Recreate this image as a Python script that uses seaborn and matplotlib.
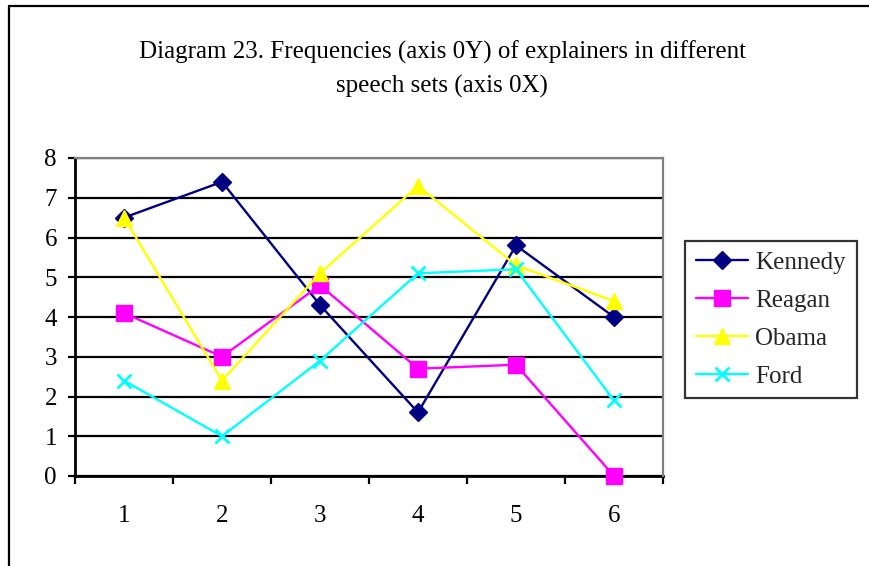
import numpy as np
import pandas as pd
import matplotlib
matplotlib.use("Agg")
import matplotlib.pyplot as plt
from matplotlib.lines import Line2D
from matplotlib.ticker import FixedLocator
import seaborn as sns

# ---- data ----
speech_sets = [1, 2, 3, 4, 5, 6]
kennedy = [6.5, 7.4, 4.3, 1.6, 5.8, 4.0]
reagan = [4.1, 3.0, 4.8, 2.7, 2.8, 0.0]
obama = [6.5, 2.4, 5.1, 7.3, 5.3, 4.4]
ford = [2.4, 1.0, 2.9, 5.1, 5.2, 1.9]
series_names = ["Kennedy", "Reagan", "Obama", "Ford"]
y_ticks = [0, 1, 2, 3, 4, 5, 6, 7, 8]
title_text = "Diagram 23. Frequencies (axis 0Y) of explainers in different\nspeech sets (axis 0X)"

# ---- style ----
sns.set_theme(style="white")
plt.rcParams["font.family"] = ["Liberation Serif", "DejaVu Serif"]

W, H = 869, 566
FS = 18
fig = plt.figure(figsize=(W / 100, H / 100), dpi=100)
fig.patch.set_facecolor("white")

ax = fig.add_axes([75 / W, (H - 476) / H, 588 / W, 318 / H])
ax.set_facecolor("white")

styles = {
    "Kennedy": dict(color="#000080", marker="D", ms=9.5, mew=1),
    "Reagan": dict(color="#FF00FF", marker="s", ms=11, mew=1),
    "Obama": dict(color="#FFFF00", marker="^", ms=12, mew=1),
    "Ford": dict(color="#00FFFF", marker="x", ms=10, mew=2),
}
values = {"Kennedy": kennedy, "Reagan": reagan, "Obama": obama, "Ford": ford}

for name in series_names:
    st = styles[name]
    sns.lineplot(x=speech_sets, y=values[name], ax=ax, label=name,
                 color=st["color"], marker=st["marker"], markersize=st["ms"],
                 markeredgecolor=st["color"], markeredgewidth=st["mew"],
                 linewidth=1.7, clip_on=False, zorder=3)

ax.set_xlim(0.5, 6.5)
ax.set_ylim(0, 8)
ax.set_yticks(y_ticks)
ax.set_xticks(speech_sets)
ax.xaxis.set_minor_locator(FixedLocator(np.arange(0.5, 6.6, 1.0)))
ax.tick_params(axis="x", which="major", length=0, pad=21, labelsize=FS, colors="black")
ax.tick_params(axis="x", which="minor", length=6, width=1.6, direction="out", color="black", bottom=True)
ax.tick_params(axis="y", which="major", length=5, width=1.6, direction="out", pad=8,
               labelsize=FS, colors="black", left=True)
ax.set_xlabel("")
ax.set_ylabel("")

ax.yaxis.grid(True, color="black", linewidth=1.6)
ax.xaxis.grid(False)
ax.set_axisbelow(True)

for side in ["left", "bottom"]:
    ax.spines[side].set_color("black")
    ax.spines[side].set_linewidth(2)
for side in ["top", "right"]:
    ax.spines[side].set_color("#808080")
    ax.spines[side].set_linewidth(1.6)
    ax.spines[side].set_zorder(4)

leg = ax.legend(loc="upper left", bbox_to_anchor=(685 / W, 1 - 241 / H),
                bbox_transform=fig.transFigure, borderaxespad=0, frameon=True,
                fancybox=False, edgecolor="black", fontsize=FS, handlelength=2.1,
                labelspacing=0.62, handletextpad=0.3, borderpad=0.42)
leg.get_frame().set_linewidth(1.6)

fig.text(442 / W, 1 - 69 / H, title_text, ha="center", va="center",
         fontsize=FS, linespacing=1.6, color="black")

# outer chart border (left and top)
fig.add_artist(Line2D([8.5 / W, 8.5 / W], [0, 1 - 6 / H], color="black", lw=1.6,
                      transform=fig.transFigure))
fig.add_artist(Line2D([8.5 / W, 1], [1 - 6 / H, 1 - 6 / H], color="black", lw=1.6,
                      transform=fig.transFigure))

fig.savefig("out.png", dpi=100, facecolor="white")
